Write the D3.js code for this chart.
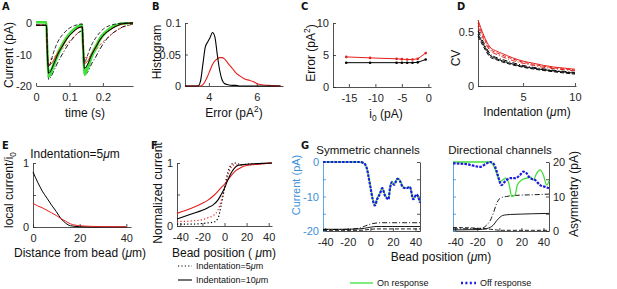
<!DOCTYPE html>
<html lang="en">
<head>
<meta charset="UTF-8">
<title>Model figure</title>
<script src="https://d3js.org/d3.v7.min.js"></script>
<style>
  body { margin: 0; background: #fff; }
  svg { display: block; }
</style>
</head>
<body>
<script>
var FONT = "'Liberation Sans', Arial, sans-serif";
var INK = "#262626";
var RED = "#e3201b", GREEN = "#3fe03a", BLUE = "#1c1ce0", LBLUE = "#3d8fd6";

// ---- A: current traces
var tA = [0, 0.031, 0.034, 0.038, 0.045, 0.052, 0.065, 0.081, 0.095, 0.111, 0.125, 0.138, 0.141, 0.145, 0.155, 0.166, 0.18, 0.191, 0.205, 0.221, 0.24, 0.26, 0.29];
var aBlack = [-0.7, -0.7, -10, -16, -15, -13.3, -10, -7, -4.6, -2.8, -1.6, -1.2, -8, -14.4, -13, -10.2, -7.5, -5.4, -3.5, -2.2, -1, -0.2, 0];
var aGreen1 = [0.3, 0.3, -11, -17, -16, -14, -10.5, -7, -4.5, -2.5, -1.2, -0.6, -9, -16.5, -14.5, -11, -8, -5.5, -3.5, -2, -0.8, -0.2, 0];
var aGreen2 = [0.2, 0.2, -9, -15.5, -15, -13, -9.5, -6.2, -4, -2.2, -1, -0.5, -8, -15.5, -13.5, -10, -7, -4.8, -3, -1.6, -0.6, -0.1, 0];
var aBlackDD = [-0.7, -0.7, -11, -18, -17, -15.5, -12.5, -9.5, -7, -4.8, -3.2, -2.5, -9, -16.5, -15.5, -13, -10.5, -8.3, -6, -4, -2.4, -1.2, -0.3];
var aBlackFast = [-0.7, -0.7, -9, -14, -12, -9.5, -6, -3.5, -2, -1, -0.5, -0.3, -7, -12.5, -10, -7, -4.5, -3, -1.6, -0.8, -0.3, 0, 0];
var aRed = [-0.7, -0.7, -9, -13.3, -13, -12, -9.5, -6.8, -4.6, -2.9, -1.7, -1.3, -7.5, -12.8, -12, -9.8, -7.3, -5.3, -3.5, -2.2, -1, -0.3, 0];
var aRedSlow = [-0.7, -0.7, -7, -11, -11.5, -11, -9.8, -8, -6.3, -4.6, -3.2, -2.6, -6.5, -11, -11, -10, -8.5, -7, -5.5, -4, -2.5, -1.3, -0.5];

// ---- B: error histogram
var errB = [3, 3.55, 3.65, 3.75, 3.85, 3.95, 4.05, 4.15, 4.25, 4.35, 4.45, 4.55, 4.65, 4.8, 5.0, 5.15, 5.3, 5.5, 5.7, 5.85, 6.0, 6.2, 6.5, 7.0];
var histBlack = [0, 0, 0.008, 0.035, 0.062, 0.07, 0.077, 0.085, 0.078, 0.05, 0.025, 0.01, 0.004, 0.002, 0.001, 0.001, 0, 0, 0, 0, 0, 0, 0, 0];
var histRed = [0, 0, 0, 0.002, 0.008, 0.016, 0.025, 0.034, 0.04, 0.043, 0.045, 0.045, 0.043, 0.036, 0.027, 0.02, 0.016, 0.011, 0.009, 0.007, 0.004, 0.002, 0.001, 0];

// ---- C: error vs i0
var i0 = [-15.5, -11, -6, -5, -4, -3, -2, -0.5];
var errRed = [4.7, 4.55, 4.4, 4.35, 4.3, 4.3, 4.4, 5.3];
var errBlack = [3.8, 3.8, 3.8, 3.8, 3.8, 3.8, 3.85, 4.3];

// ---- D: CV vs indentation
var indD = [0.65, 1.2, 1.8, 2.5, 3, 4, 5, 6, 7, 8, 9, 10];
var cvRed1 = [0.61, 0.47, 0.36, 0.32, 0.3, 0.26, 0.23, 0.21, 0.19, 0.175, 0.165, 0.155];
var cvRed2 = [0.58, 0.45, 0.345, 0.305, 0.285, 0.25, 0.22, 0.2, 0.182, 0.167, 0.157, 0.147];
var cvRed3 = [0.55, 0.43, 0.33, 0.29, 0.27, 0.235, 0.21, 0.19, 0.172, 0.16, 0.15, 0.14];
var cvBlack1 = [0.51, 0.4, 0.3, 0.26, 0.245, 0.215, 0.19, 0.172, 0.158, 0.145, 0.135, 0.125];
var cvBlack2 = [0.48, 0.38, 0.285, 0.25, 0.232, 0.203, 0.18, 0.164, 0.15, 0.138, 0.128, 0.118];
var cvBlack3 = [0.46, 0.36, 0.27, 0.24, 0.222, 0.195, 0.173, 0.157, 0.143, 0.131, 0.12, 0.11];

// ---- E: local current vs distance
var distE = [0, 2, 4, 6, 8, 10, 12, 14, 16, 20, 25, 30, 40];
var locBlack = [0.86, 0.7, 0.56, 0.45, 0.34, 0.24, 0.13, 0.06, 0.02, 0.005, 0, 0, 0];
var locRed = [0.37, 0.33, 0.3, 0.26, 0.22, 0.18, 0.13, 0.09, 0.05, 0.02, 0.01, 0.005, 0.003];

// ---- F: normalized current vs bead position
var posF = [-43, -30, -20, -15, -10, -6, -3, 0, 3, 6, 9, 12, 15, 20, 30, 43];
var normRed10 = [0.2, 0.28, 0.36, 0.41, 0.48, 0.55, 0.61, 0.66, 0.73, 0.8, 0.86, 0.9, 0.93, 0.96, 0.98, 1.0];
var normBlack10 = [0.11, 0.19, 0.25, 0.29, 0.34, 0.41, 0.5, 0.6, 0.73, 0.84, 0.92, 0.96, 0.97, 0.98, 0.99, 1.0];
var normRed5 = [0.07, 0.08, 0.1, 0.13, 0.17, 0.25, 0.4, 0.6, 0.8, 0.93, 0.97, 0.97, 0.97, 0.97, 0.98, 1.0];
var normBlack5 = [0.03, 0.03, 0.04, 0.05, 0.06, 0.12, 0.33, 0.6, 0.85, 0.97, 1.0, 0.99, 0.97, 0.98, 0.99, 1.0];

// ---- G: symmetric channels
var symX = [-42, -30, -20, -10, -6, -3, -1.5, 0, 2, 4, 6, 8.5, 10.5, 13, 16, 17.5, 19, 21, 24, 26, 29, 32, 35, 38, 41, 44];
var symOn = [0, 0, 0, 0, -0.3, -2, -4.3, -7, -10.5, -12.3, -10.5, -9, -7.6, -9.6, -10.5, -7.6, -5.7, -6.4, -4.7, -5.2, -7.2, -7.6, -7.2, -10.5, -9.6, -11.5];
var symOff = [0, 0, 0, 0, -0.3, -2, -4.5, -7.2, -10.8, -12.6, -10.8, -9.2, -7.6, -9.8, -10.8, -7.4, -5.8, -6.6, -4.9, -5.4, -7.4, -7.6, -7.2, -10.8, -9.4, -11.8];
var symAsymX = [-42, -20, -10, -5, 0, 5, 10, 20, 30, 44];
var symAsymSolid = [0.5, 0.5, 0.6, 0.8, 1.1, 1.3, 1.3, 1.3, 1.3, 1.3];
var symAsymDD = [0.4, 0.5, 0.8, 1.4, 2.0, 2.3, 2.4, 2.4, 2.4, 2.4];
var symAsymDash = [0.2, 0.2, 0.2, 0.3, 0.5, 0.6, 0.6, 0.6, 0.6, 0.6];

// ---- G: directional channels
var dirOnX = [-42, -20, -8.5, -5.5, -2.4, 0.6, 3, 6, 9, 11.2, 14.2, 16.3, 20.3, 24.8, 27.8, 30.8, 33.8, 36.9, 39.9, 42.9, 45];
var dirOn = [0, 0, 0, -0.9, -3.3, -5.7, -5.2, -4.7, -6.7, -10, -9.6, -6.7, -5.2, -4.7, -4.3, -5.2, -3.3, -2.3, -3.8, -6.7, -5.5];
var dirOffX = [-42, -30, -17.5, -11.5, -8.5, -5.5, -2.4, -1, 2, 5, 9.7, 14.2, 18.7, 21.7, 24.8, 27.8, 32.3, 36.9, 41.4, 45];
var dirOff = [-0.4, -0.6, -1.4, -0.4, 0, -0.4, -2.7, -4.3, -6.7, -5.7, -4.7, -4.7, -3.8, -2.8, -3.3, -4.7, -5.2, -6.7, -7.2, -7.6];
var dirAsymX = [-42, -20, -15, -11.5, -8, -5.5, -2.4, 0.6, 3, 6.6, 10, 20, 30, 45];
var dirAsymDD = [0.6, 0.7, 0.9, 1.7, 3.2, 5.1, 8, 9.5, 9.8, 10, 10.2, 10.4, 10.5, 10.7];
var dirAsymSolid = [0.3, 0.4, 0.5, 0.7, 1.1, 1.7, 3, 4.0, 4.5, 4.7, 4.8, 4.9, 5.0, 5.1];
var dirAsymDash = [1.0, 0.8, 0.7, 0.6, 0.5, 0.4, 0.3, 0.2, 0.2, 0.2, 0.2, 0.2, 0.2, 0.2];

var svg = d3.select("body").append("svg")
    .attr("width", 617).attr("height", 289)
    .attr("font-family", FONT);
svg.append("rect").attr("width", 617).attr("height", 289).attr("fill", "#fff");

function styleAxis(g, c) {
    g.attr("font-size", 11).attr("font-family", FONT);
    g.select(".domain").attr("stroke", c).attr("stroke-width", 0.8);
    g.selectAll(".tick line").attr("stroke", c).attr("stroke-width", 0.8);
    g.selectAll(".tick text").attr("fill", c);
}
function fmt(labels) {
    return function(d) { return labels && labels.indexOf(d) < 0 ? "" : String(d); };
}

function mkAxes(p) {
    var x = d3.scaleLinear().domain(p.xd).range(p.xr);
    var y = d3.scaleLinear().domain(p.yd).range(p.yr);
    var gx = svg.append("g").attr("transform", "translate(0," + p.yr[0] + ")")
        .call(d3.axisBottom(x).tickValues(p.xt).tickSizeInner(-3).tickSizeOuter(0)
            .tickPadding(7).tickFormat(fmt(p.xl)));
    styleAxis(gx, INK);
    var gy = svg.append("g").attr("transform", "translate(" + p.xr[0] + ",0)")
        .call(d3.axisLeft(y).tickValues(p.yt).tickSizeInner(-3).tickSizeOuter(0)
            .tickPadding(4).tickFormat(fmt(p.yl)));
    styleAxis(gy, p.yc || INK);
    if (p.hideY) { gy.select(".domain").remove(); gy.selectAll(".tick line").remove(); }
    return { x: x, y: y };
}

function plot(ax, xs, ys, color, w, dash, curve) {
    var line = d3.line()
        .x(function(d, i) { return ax.x(xs[i]); })
        .y(function(d) { return ax.y(d); })
        .curve(curve || d3.curveMonotoneX);
    svg.append("path").datum(ys).attr("d", line)
        .attr("fill", "none").attr("stroke", color)
        .attr("stroke-width", w).attr("stroke-dasharray", dash || null)
        .attr("stroke-linejoin", "round");
}

function text(x, y, s, size, opts) {
    opts = opts || {};
    var t = svg.append("text").attr("x", x).attr("y", y)
        .attr("font-size", size).attr("text-anchor", opts.anchor || "middle")
        .attr("fill", opts.color || "#111");
    if (opts.bold) t.attr("font-weight", "bold").attr("font-family", "'Liberation Sans Narrow', 'DejaVu Sans Condensed', sans-serif");
    return t.text(s);
}
function rich(t, parts) {
    // parts: [text, kind] kind = null | "sup" | "sub" | "mu" | "back"
    parts.forEach(function(p) {
        var sp = t.append("tspan").text(p[0]);
        if (p[1] === "sup") sp.attr("dy", -5).attr("font-size", "0.7em");
        if (p[1] === "sub") sp.attr("dy", 3).attr("font-size", "0.7em");
        if (p[1] === "back") sp.attr("dy", p[2]);
        if (p[1] === "mu") sp.attr("font-style", "italic");
    });
    return t;
}
function ylab(x, y, size, color) {
    return svg.append("text").attr("transform", "translate(" + x + "," + y + ") rotate(-90)")
        .attr("text-anchor", "middle").attr("dy", "0.35em")
        .attr("font-size", size).attr("fill", color || "#111");
}

// panel letters
[["A", 2, 10], ["B", 152, 10], ["C", 301, 10], ["D", 457, 10], ["E", 2, 149], ["F", 151, 149], ["G", 301, 149]]
    .forEach(function(l) { text(l[1], l[2], l[0], 11, { anchor: "start", bold: true }); });

// ---- A
var axA = mkAxes({ xd: [0, 0.29], xr: [36, 133], yd: [-20, 0], yr: [86, 23],
    xt: [0, 0.1, 0.2], yt: [0, -10, -20], hideY: true });
plot(axA, tA, aRedSlow, RED, 0.8, "3,2");
plot(axA, tA, aBlackDD, "#000", 0.9, "5,2,1,2");
plot(axA, tA, aGreen1, GREEN, 2.2);
plot(axA, tA, aGreen2, GREEN, 2.2);
plot(axA, tA, aRed, RED, 1);
plot(axA, tA, aBlack, "#000", 1);
plot(axA, tA, aBlackFast, "#000", 0.8, "4,2");
text(85, 117, "time (s)", 12);
ylab(9, 55, 12).text("Current (pA)");

// ---- B
var axB = mkAxes({ xd: [3, 7.1], xr: [185, 283], yd: [0, 0.1], yr: [86, 23],
    xt: [4, 6], yt: [0, 0.05, 0.1] });
plot(axB, errB, histRed, RED, 1.1);
plot(axB, errB, histBlack, "#000", 1.1);
rich(text(234, 117, "", 12), [["Error (pA"], ["2", "sup"], [")", "back", 5]]);
ylab(157, 52, 12).text("Histogram");

// ---- C
var axC = mkAxes({ xd: [-18, 0.5], xr: [333, 431], yd: [0, 10], yr: [87, 23],
    xt: [-15, -10, -5, 0], yt: [0, 5, 10] });
plot(axC, i0, errRed, RED, 1, null, d3.curveLinear);
plot(axC, i0, errBlack, "#000", 1, null, d3.curveLinear);
[[errRed, RED], [errBlack, "#000"]].forEach(function(s) {
    svg.append("g").selectAll("circle").data(s[0]).enter().append("circle")
        .attr("cx", function(d, i) { return axC.x(i0[i]); })
        .attr("cy", function(d) { return axC.y(d); })
        .attr("r", 1.3).attr("fill", s[1]);
});
rich(text(386, 118, "", 12), [["i"], ["0", "sub"], [" (pA)", "back", -3]]);
rich(ylab(311, 53, 12), [["Error (pA"], ["2", "sup"], [")", "back", 5]]);

// ---- D
var axD = mkAxes({ xd: [0.65, 10.1], xr: [478, 576], yd: [0, 0.61], yr: [86, 20],
    xt: [5, 10], yt: [0, 0.5] });
plot(axD, indD, cvRed1, RED, 1);
plot(axD, indD, cvRed2, RED, 1, "4,2");
plot(axD, indD, cvRed3, RED, 1, "5,2,1,2");
plot(axD, indD, cvBlack1, "#000", 1, "5,2,1,2");
plot(axD, indD, cvBlack2, "#000", 1);
plot(axD, indD, cvBlack3, "#000", 1, "4,2");
rich(text(527, 116, "", 12), [["Indentation ("], ["μ", "mu"], ["m)"]]);
ylab(456, 58, 12).text("CV");

// ---- E
var axE = mkAxes({ xd: [0, 42], xr: [33, 131], yd: [0, 1], yr: [227, 163],
    xt: [0, 20, 40], yt: [0, 0.5, 1], yl: [0, 1] });
plot(axE, distE, locBlack, "#000", 1);
plot(axE, distE, locRed, RED, 1);
rich(text(75, 158, "", 12), [["Indentation=5"], ["μ", "mu"], ["m"]]);
rich(text(80, 257, "", 12), [["Distance from bead ("], ["μ", "mu"], ["m)"]]);
rich(ylab(9, 190, 12), [["local current/i"], ["0", "sub"]]);

// ---- F
var axF = mkAxes({ xd: [-43, 43], xr: [177, 272], yd: [0, 1], yr: [226, 163],
    xt: [-40, -20, 0, 20, 40], yt: [0, 0.5, 1], yl: [0, 1] });
plot(axF, posF, normRed5, RED, 1.2, "1.2,2.2");
plot(axF, posF, normBlack5, "#000", 1.2, "1.2,2.2");
plot(axF, posF, normRed10, RED, 1.1);
plot(axF, posF, normBlack10, "#000", 1.1);
rich(text(224, 257, "", 12), [["Bead position ( "], ["μ", "mu"], ["m)"]]);
ylab(158, 193, 12).text("Normalized current");
svg.append("line").attr("x1", 178).attr("x2", 192).attr("y1", 266).attr("y2", 266)
    .attr("stroke", "#000").attr("stroke-width", 1.2).attr("stroke-dasharray", "1.2,2.2");
svg.append("line").attr("x1", 178).attr("x2", 192).attr("y1", 280).attr("y2", 280)
    .attr("stroke", "#000").attr("stroke-width", 1.1);
rich(text(196, 269, "", 9, { anchor: "start" }), [["Indentation=5"], ["μ", "mu"], ["m"]]);
rich(text(196, 283, "", 9, { anchor: "start" }), [["Indentation=10"], ["μ", "mu"], ["m"]]);

// ---- G left (symmetric)
var axG1 = mkAxes({ xd: [-42, 44], xr: [323, 420], yd: [-20, 0], yr: [231, 162],
    xt: [-40, -20, 0, 20, 40], yt: [0, -5, -10, -15, -20], yl: [0, -10, -20], yc: LBLUE });
var asym1 = d3.scaleLinear().domain([0, 20]).range([231, 162]);
var gr1 = svg.append("g").attr("transform", "translate(420,0)")
    .call(d3.axisRight(asym1).tickValues([0, 5, 10, 15, 20]).tickSizeInner(-3).tickSizeOuter(0).tickFormat(""));
styleAxis(gr1, INK);
var axG1a = { x: axG1.x, y: asym1 };
plot(axG1a, symAsymX, symAsymDD, "#000", 0.9, "5,2,1,2");
plot(axG1a, symAsymX, symAsymSolid, "#000", 0.9);
plot(axG1a, symAsymX, symAsymDash, "#000", 0.9, "4,2");
plot(axG1, symX, symOn, GREEN, 1.3);
plot(axG1, symX, symOff, BLUE, 2.2, "2.6,1.2");
text(368, 154, "Symmetric channels", 11.5);
ylab(296, 185, 11, LBLUE).text("Current (pA)");

// ---- G right (directional)
var axG2 = mkAxes({ xd: [-42, 45], xr: [453, 549], yd: [-20, 0], yr: [231, 162],
    xt: [-40, -20, 0, 20, 40], yt: [0, -5, -10, -15, -20], yl: [], yc: LBLUE });
var asym2 = d3.scaleLinear().domain([0, 20]).range([231, 162]);
var gr2 = svg.append("g").attr("transform", "translate(549,0)")
    .call(d3.axisRight(asym2).tickValues([0, 5, 10, 15, 20]).tickSizeInner(-3).tickSizeOuter(0)
        .tickPadding(4).tickFormat(fmt([0, 10, 20])));
styleAxis(gr2, INK);
var axG2a = { x: axG2.x, y: asym2 };
plot(axG2a, dirAsymX, dirAsymDD, "#000", 0.9, "5,2,1,2");
plot(axG2a, dirAsymX, dirAsymSolid, "#000", 0.9);
plot(axG2a, dirAsymX, dirAsymDash, "#000", 0.9, "4,2");
plot(axG2, dirOnX, dirOn, GREEN, 1.3);
plot(axG2, dirOffX, dirOff, BLUE, 2.2, "2.6,1.2");
text(500, 154, "Directional channels", 11.5);
ylab(574, 194, 12).text("Asymmetry (pA)");

rich(text(441, 261, "", 12), [["Bead position ("], ["μ", "mu"], ["m)"]]);

// G legend
svg.append("line").attr("x1", 350).attr("x2", 373).attr("y1", 283).attr("y2", 283)
    .attr("stroke", GREEN).attr("stroke-width", 1.3);
text(377, 286, "On response", 9, { anchor: "start" });
svg.append("line").attr("x1", 461).attr("x2", 476).attr("y1", 283).attr("y2", 283)
    .attr("stroke", BLUE).attr("stroke-width", 2.4).attr("stroke-dasharray", "2,2.4");
text(480, 286, "Off response", 9, { anchor: "start" });
</script>
</body>
</html>
